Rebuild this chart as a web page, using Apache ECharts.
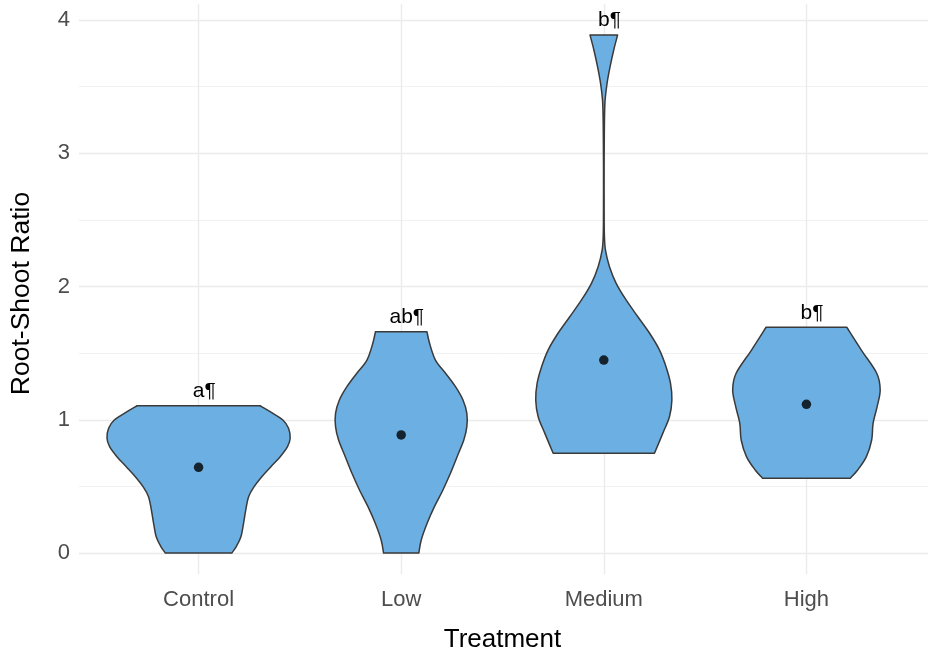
<!DOCTYPE html>
<html>
<head>
<meta charset="utf-8">
<script src="https://cdn.jsdelivr.net/npm/echarts@6/dist/echarts.min.js"></script>
<style>html,body{margin:0;padding:0;background:#fff}#c{width:938px;height:660px}</style>
</head>
<body>
<div id="c"></div>
<script>
// ---- data ----
const categories = ['Control', 'Low', 'Medium', 'High'];
const sigLetters = ['a', 'ab', 'b', 'b'];
const medians = [0.643, 0.886, 1.448, 1.116];
const yTickMin = 0, yTickMax = 4, yTickStep = 1;

// violin outlines: y values and half-widths (fraction of category spacing)
const controlY = [0, 0.048, 0.122, 0.223, 0.323, 0.423, 0.498, 0.573, 0.648, 0.723, 0.798, 0.861, 0.936, 0.998, 1.061, 1.105];
const controlW = [0.164, 0.186, 0.209, 0.222, 0.233, 0.247, 0.274, 0.312, 0.357, 0.403, 0.439, 0.452, 0.444, 0.416, 0.353, 0.304];
const lowY = [0, 0.098, 0.223, 0.348, 0.473, 0.598, 0.723, 0.848, 0.948, 1.048, 1.148, 1.248, 1.349, 1.448, 1.574, 1.661];
const lowW = [0.087, 0.099, 0.128, 0.164, 0.206, 0.243, 0.276, 0.309, 0.324, 0.324, 0.305, 0.268, 0.219, 0.169, 0.140, 0.127];
const mediumY = [0.748, 0.898, 1.023, 1.148, 1.274, 1.398, 1.523, 1.649, 1.773, 1.899, 2.024, 2.149, 2.274, 2.399, 2.649, 2.899, 3.150, 3.274, 3.400, 3.525, 3.650, 3.775, 3.887];
const mediumW = [0.250, 0.291, 0.324, 0.336, 0.329, 0.307, 0.275, 0.226, 0.168, 0.110, 0.061, 0.028, 0.008, 0.0025, 0.0015, 0.0015, 0.0025, 0.0035, 0.0064, 0.016, 0.031, 0.049, 0.068];
const highY = [0.561, 0.623, 0.723, 0.848, 0.973, 1.098, 1.223, 1.349, 1.523, 1.694];
const highW = [0.216, 0.253, 0.296, 0.322, 0.329, 0.349, 0.364, 0.347, 0.271, 0.199];

const profiles = [
  { y: controlY, w: controlW },
  { y: lowY, w: lowW },
  { y: mediumY, w: mediumW },
  { y: highY, w: highW }
];

// ---- layout ----
const FONT = '"Liberation Sans", Arial, Helvetica, sans-serif';
const W = 938, H = 660;
const plotL = 77, plotR = 928;
const step = (plotR - plotL) / 4.2;
const y0px = 553, y4px = 20;
const unit = (y0px - y4px) / 4;
const bMin = -0.16, bMax = 4.12;
const gridBTop = y4px - (bMax - 4) * unit;
const gridBBottom = H - (y0px - bMin * unit);

const fill = '#6cb0e3';
const stroke = '#3a3a3a';

const measureCtx = document.createElement('canvas').getContext('2d');
const labelFontSize = 21;
measureCtx.font = labelFontSize + 'px ' + FONT;

function sidePath(pts) {
  let d = '';
  for (let i = 0; i < pts.length - 1; i++) {
    const p0 = pts[Math.max(i - 1, 0)], p1 = pts[i], p2 = pts[i + 1], p3 = pts[Math.min(i + 2, pts.length - 1)];
    const c1x = p1[0] + (p2[0] - p0[0]) / 6, c1y = p1[1] + (p2[1] - p0[1]) / 6;
    const c2x = p2[0] - (p3[0] - p1[0]) / 6, c2y = p2[1] - (p3[1] - p1[1]) / 6;
    d += ' C' + c1x + ',' + c1y + ' ' + c2x + ',' + c2y + ' ' + p2[0] + ',' + p2[1];
  }
  return d;
}

const chart = echarts.init(document.getElementById('c'), null, { renderer: 'canvas' });

const option = {
  animation: false,
  backgroundColor: '#ffffff',
  grid: [
    { left: plotL, right: W - plotR, top: y4px, bottom: H - y0px },
    { left: plotL + 0.6 * step, right: W - (plotR - 0.6 * step), top: gridBTop, bottom: gridBBottom }
  ],
  xAxis: [
    { gridIndex: 0, type: 'value', min: 0, max: 1, show: false },
    {
      gridIndex: 1, type: 'category', data: categories, boundaryGap: false,
      axisLine: { show: false }, axisTick: { show: false },
      axisLabel: { interval: 0, color: '#4d4d4d', fontSize: 22, fontFamily: FONT, margin: 15 },
      splitLine: { show: true, lineStyle: { color: '#ebebeb', width: 1.4 } },
      name: 'Treatment', nameLocation: 'middle', nameGap: 53,
      nameTextStyle: { color: '#000000', fontSize: 26, fontFamily: FONT }
    }
  ],
  yAxis: [
    {
      gridIndex: 0, type: 'value', min: yTickMin, max: yTickMax, interval: yTickStep,
      axisLine: { show: false }, axisTick: { show: false },
      axisLabel: { color: '#4d4d4d', fontSize: 22, fontFamily: FONT, margin: 9 },
      splitLine: { show: true, lineStyle: { color: '#ebebeb', width: 1.4 } },
      minorTick: { show: false, splitNumber: 2 },
      minorSplitLine: { show: true, lineStyle: { color: '#ebebeb', width: 0.7 } },
      name: 'Root-Shoot Ratio', nameLocation: 'middle', nameGap: 44,
      nameTextStyle: { color: '#000000', fontSize: 26.5, fontFamily: FONT, padding: [0, 14, 0, 0] }
    },
    { gridIndex: 1, type: 'value', min: bMin, max: bMax, show: false }
  ],
  series: [
    {
      type: 'custom', xAxisIndex: 1, yAxisIndex: 1, z: 3, clip: false,
      data: categories.map((c, i) => [i]),
      renderItem: function (params, api) {
        const i = api.value(0);
        const pr = profiles[i];
        const cx = api.coord([i, 0])[0];
        const band = api.coord([1, 0])[0] - api.coord([0, 0])[0];
        const left = pr.y.map((v, k) => [cx - pr.w[k] * band, api.coord([i, v])[1]]);
        const right = pr.y.map((v, k) => [cx + pr.w[k] * band, api.coord([i, v])[1]]).reverse();
        const d = 'M' + left[0][0] + ',' + left[0][1] + sidePath(left) +
          ' L' + right[0][0] + ',' + right[0][1] + sidePath(right) + ' Z';
        return {
          type: 'path',
          shape: { pathData: d },
          style: { fill: fill, stroke: stroke, lineWidth: 1.5, lineJoin: 'round' }
        };
      }
    },
    {
      type: 'scatter', xAxisIndex: 1, yAxisIndex: 1, z: 4,
      data: medians.map((m, i) => [i, m]),
      symbol: 'circle', symbolSize: 9.5,
      itemStyle: { color: '#000000' }
    },
    {
      type: 'custom', xAxisIndex: 1, yAxisIndex: 1, z: 5, clip: false,
      data: categories.map((c, i) => [i]),
      renderItem: function (params, api) {
        const i = api.value(0);
        const pr = profiles[i];
        const top = pr.y[pr.y.length - 1];
        const p = api.coord([i, top]);
        const letter = sigLetters[i];
        const wLetter = measureCtx.measureText(letter).width;
        return {
          type: 'text',
          x: p[0] - wLetter / 2,
          y: p[1] - 14.5,
          style: {
            text: letter + '\u00b6',
            fill: '#000000',
            fontSize: labelFontSize,
            fontFamily: FONT,
            align: 'left',
            verticalAlign: 'middle'
          }
        };
      }
    }
  ]
};
chart.setOption(option);
</script>
</body>
</html>
